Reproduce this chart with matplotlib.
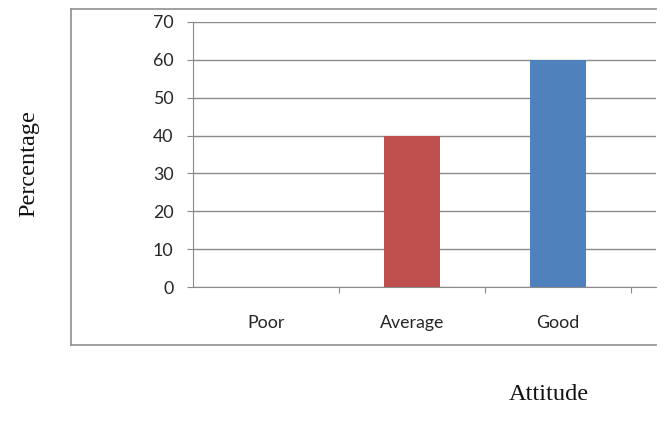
import matplotlib
matplotlib.use("Agg")
import matplotlib.pyplot as plt
from matplotlib.lines import Line2D

categories = ["Poor", "Average", "Good"]
values = [0, 40, 60]
colors = ["#C0504D", "#C0504D", "#4F81BD"]
yticks = [0, 10, 20, 30, 40, 50, 60, 70]

W, H = 670, 421
fig = plt.figure(figsize=(W / 100, H / 100), dpi=100)

def fx(px):
    return px / W

def fy(py):
    return 1 - py / H

left, right, top, bottom = 193, 656, 22, 287
ax = fig.add_axes([fx(left), fy(bottom), fx(right) - fx(left), fy(top) - fy(bottom)])

x = list(range(len(categories)))
ax.bar(x, values, width=0.39, color=colors, zorder=3)

ax.set_ylim(0, 70)
span = (right - left) / 146.0
ax.set_xlim(-0.5, -0.5 + span)
ax.set_yticks(yticks)
ax.set_yticklabels([str(v) for v in yticks])
ax.yaxis.grid(True, color="#8a8a8a", linewidth=1.0, zorder=0)
ax.set_axisbelow(True)

# category boundary ticks
ax.set_xticks([i + 0.5 for i in x])
ax.set_xticklabels([])
ax.set_xticks(x, minor=True)
ax.set_xticklabels(categories, minor=True)
ax.tick_params(axis="x", which="major", length=4, color="#8a8a8a", direction="out")
ax.tick_params(axis="x", which="minor", length=0, pad=20, labelsize=12.8, labelcolor="#262626")
ax.tick_params(axis="y", length=4, color="#8a8a8a", pad=10, labelsize=12.8, labelcolor="#262626")
for lab in ax.get_xticklabels(minor=True) + ax.get_yticklabels():
    lab.set_fontfamily("Lato")

for s in ["top", "right"]:
    ax.spines[s].set_visible(False)
ax.spines["left"].set_color("#8a8a8a")
ax.spines["bottom"].set_color("#8a8a8a")

# outer chart frame
bx0, bx1, by0, by1 = 71, 656, 9, 345
fr = dict(color="#8f8f8f", linewidth=1.2, transform=fig.transFigure)
fig.add_artist(Line2D([fx(bx0), fx(bx1)], [fy(by0), fy(by0)], **fr))
fig.add_artist(Line2D([fx(bx0), fx(bx1)], [fy(by1), fy(by1)], **fr))
fig.add_artist(Line2D([fx(bx0), fx(bx0)], [fy(by0), fy(by1)], **fr))

fig.text(fx(29), fy(164), "Percentage", rotation=90, ha="center", va="center",
         fontsize=17.5, family="Liberation Serif", color="#111111")
fig.text(fx(549), fy(395), "Attitude", ha="center", va="center",
         fontsize=17.5, family="Liberation Serif", color="#111111")

fig.savefig("out.png", dpi=100)
